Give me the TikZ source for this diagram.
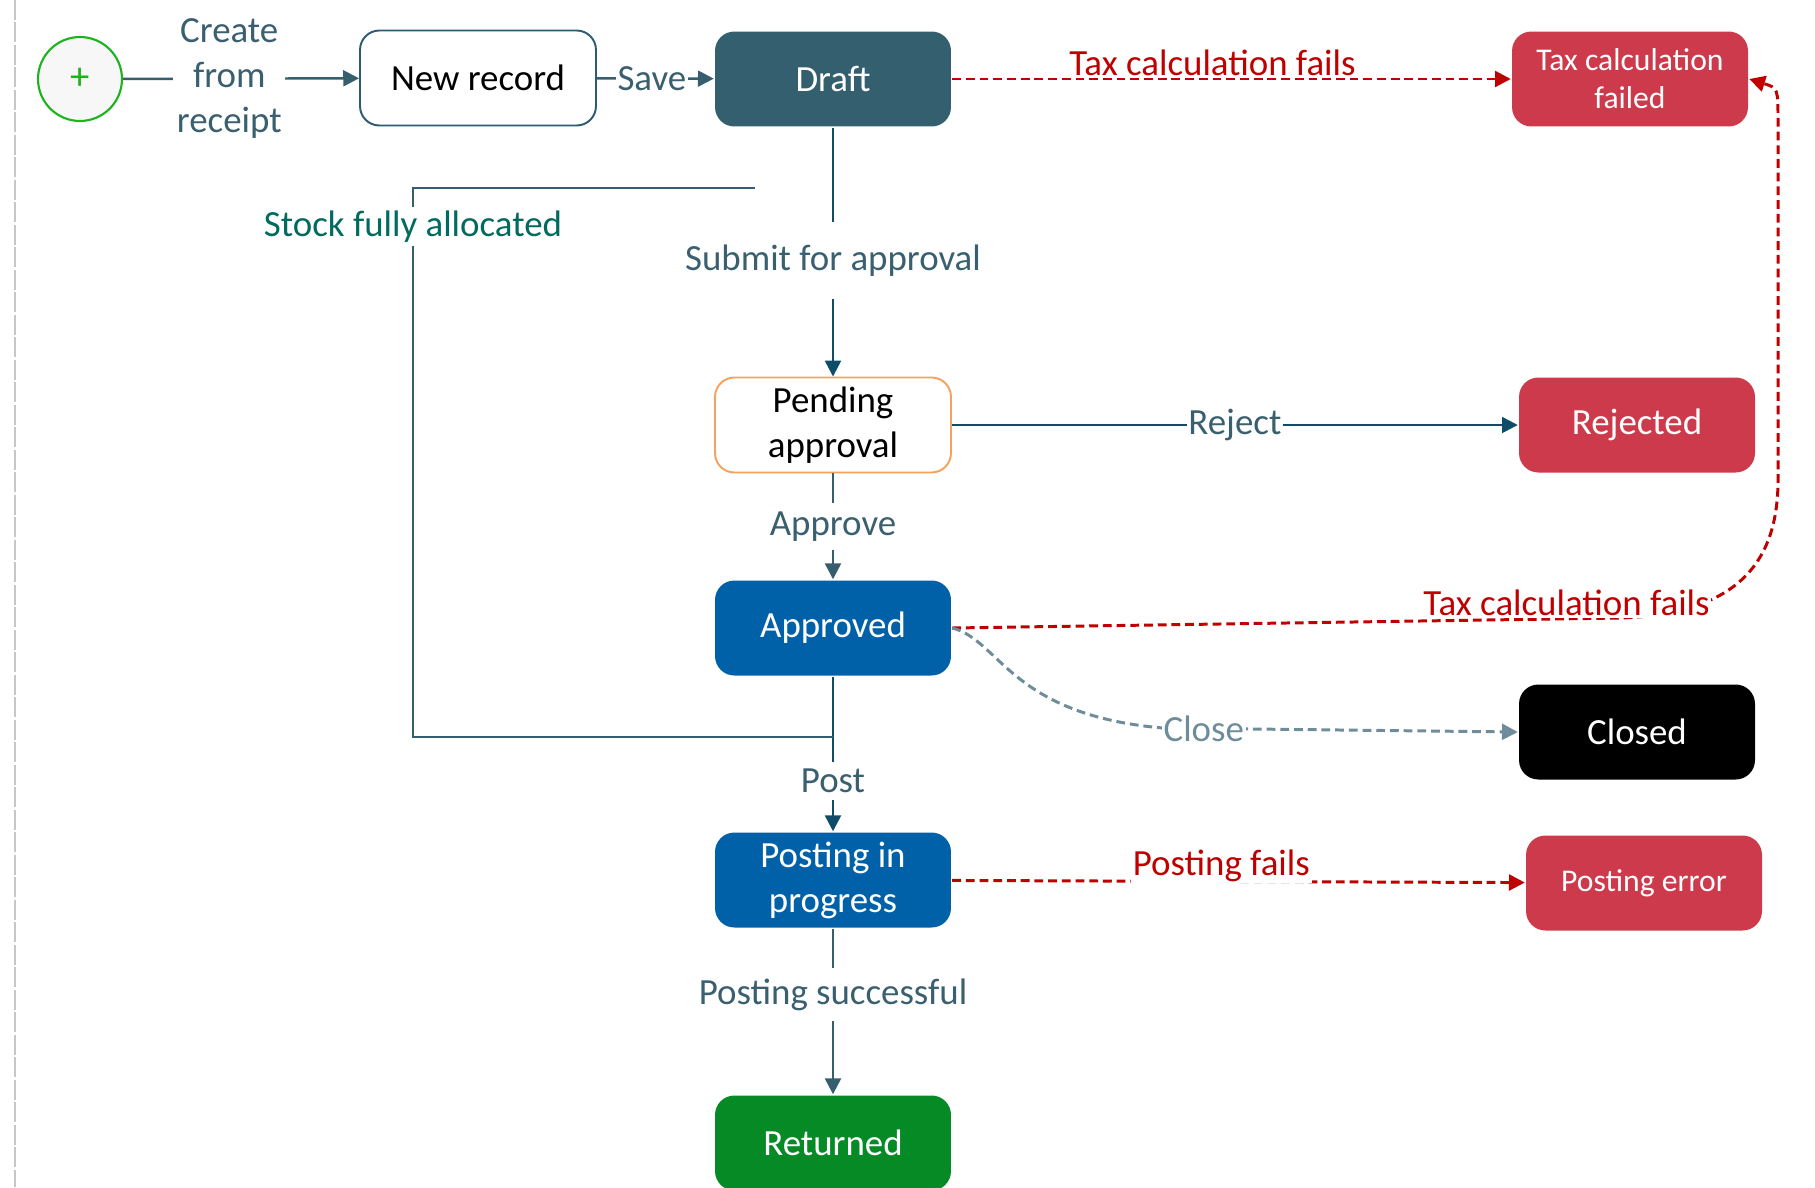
\documentclass[tikz,border=0pt]{standalone}
\usepackage{fontspec}
\setmainfont{Carlito}
\usetikzlibrary{arrows.meta}

\definecolor{connc}{HTML}{365E6E}
\definecolor{darkconn}{HTML}{0F4C69}
\definecolor{lblc}{HTML}{3A6070}
\definecolor{draftc}{HTML}{345F6F}
\definecolor{bluec}{HTML}{0061A9}
\definecolor{redbox}{HTML}{CD3A4B}
\definecolor{failc}{HTML}{C00000}
\definecolor{greenc}{HTML}{058A25}
\definecolor{closec}{HTML}{6E8C9A}
\definecolor{stockc}{HTML}{006B5E}
\definecolor{orangec}{HTML}{F5A25D}
\definecolor{newedge}{HTML}{2E5B72}
\definecolor{startc}{HTML}{1DB31D}
\newcommand{\statefont}{\fontsize{21}{25.5}\selectfont}
\newcommand{\smallstatefont}{\fontsize{18}{21.5}\selectfont}

\begin{document}
\begin{tikzpicture}[x=0.02cm,y=-0.02cm,>={Triangle[length=9pt,width=9pt]},line width=1.4pt]
        \tikzstyle{statebox}=[rectangle,rounded corners=11pt,minimum width=4.72cm,minimum height=1.9cm,align=center,text=white,font=\statefont]
        \tikzstyle{lbl}=[fill=white,text=lblc,font=\statefont,align=center,inner sep=2pt]
        \tikzstyle{faillbl}=[fill=white,text=failc,font=\statefont,inner sep=1pt,yshift=9pt]
        \tikzstyle{flow}=[->,draw=connc]
        \tikzstyle{darkflow}=[->,draw=darkconn]
        \tikzstyle{failflow}=[->,draw=failc,line width=1.7pt,dash pattern=on 5pt off 2.8pt]
        \tikzstyle{closeflow}=[->,draw=closec,line width=1.7pt,dash pattern=on 5pt off 2.8pt]

        \useasboundingbox (0,0) rectangle (1815,1187);
        \draw[gray!45,line width=1.5pt,dash pattern=on 0.4cm off 0.05cm] (15,0) -- (15,1187);

        \node[circle,draw=startc,fill=gray!6,line width=1.2pt,minimum size=1.68cm,text=startc,font=\fontsize{22}{22}\selectfont] (start) at (80,79) {+};
        \node[statebox,draw=newedge,line width=1.1pt,fill=white,text=black] (new)      at (478,78)   {New record};
        \node[statebox,fill=draftc]                                        (draft)    at (833,79)   {Draft};
        \node[statebox,fill=redbox,font=\smallstatefont]                   (taxfail)  at (1630,79)  {Tax calculation\\failed};
        \node[statebox,draw=orangec,line width=1.1pt,fill=white,text=black] (pending) at (833,425)  {Pending\\approval};
        \node[statebox,fill=redbox]                                        (rejected) at (1637,425) {Rejected};
        \node[statebox,fill=bluec]                                         (approved) at (833,628)  {Approved};
        \node[statebox,fill=black]                                         (closed)   at (1637,732) {Closed};
        \node[statebox,fill=bluec]                                         (posting)  at (833,880)  {Posting in\\progress};
        \node[statebox,fill=redbox,font=\smallstatefont]                   (posterr)  at (1644,883) {Posting error};
        \node[statebox,fill=greenc]                                        (returned) at (833,1143) {Returned};

        \coordinate (loopA) at (833,737);
        \coordinate (loopC) at (413,737);
        \coordinate (loopD) at (413,188);
        \coordinate (loopB) at (755,188);
        \coordinate (taxA)  at (1620,618);
        \coordinate (taxB)  at (1778,480);
        \coordinate (taxC)  at (1778,122);
        \coordinate (closebend) at (1163,728);

        \path (start)    edge[flow]      node[lbl,pos=0.45]            {Create\\from\\receipt} (new)
              (new)      edge[flow]      node[lbl,pos=0.47,inner xsep=1pt] {Save}           (draft)
              (draft)    edge[darkflow]  node[lbl,pos=0.535,inner ysep=13pt] {Submit for approval} (pending)
              (pending)  edge[darkflow]  node[lbl,pos=0.5,inner xsep=1pt] {Reject}          (rejected)
              (pending)  edge[flow]      node[lbl,pos=0.5,inner ysep=5pt] {Approve}         (approved)
              (approved) edge[darkflow]  node[lbl,pos=0.675,inner ysep=4pt] {Post}          (posting)
              (posting)  edge[flow]      node[lbl,pos=0.4,inner ysep=6pt] {Posting successful} (returned)
              (draft)    edge[failflow]  node[faillbl,pos=0.466]       {Tax calculation fails} (taxfail)
              (posting)  edge[failflow]  node[faillbl,pos=0.47]        {Posting fails}       (posterr);

        \draw[failflow] (approved.east) -- node[faillbl,pos=0.92] {Tax calculation fails} (taxA)
              .. controls (1740,614) and (1778,560) .. (taxB) -- (taxC)
              .. controls (1778,88) .. (taxfail.east);

        \draw[closeflow] (approved.east) .. controls (1000,640) and (1010,715) .. (closebend)
              -- node[fill=white,text=closec,font=\statefont,inner sep=1pt,pos=0.115] {Close} (closed.west);

        \draw[connc] (loopA) -- (loopC)
              -- node[fill=white,text=stockc,font=\statefont,inner sep=2pt,pos=0.93] {Stock fully allocated} (loopD)
              -- (loopB);
      \end{tikzpicture}
\end{document}
